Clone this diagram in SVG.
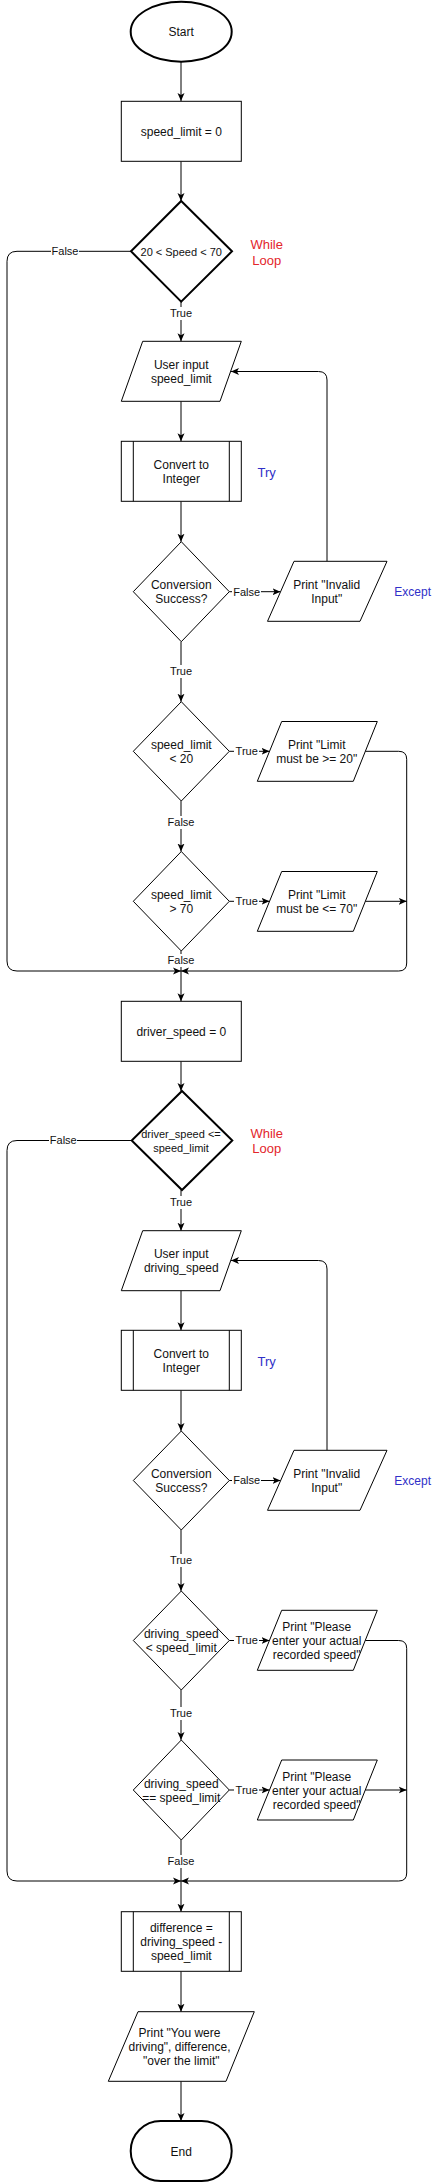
<svg xmlns="http://www.w3.org/2000/svg" width="438" height="2182" viewBox="0 0 438 2182">
<style>
.n{fill:#fff;stroke:#000;stroke-width:1}
.b{fill:#fff;stroke:#000;stroke-width:2}
.e{fill:none;stroke:#000;stroke-width:1}
.ea{fill:none;stroke:#000;stroke-width:1;marker-end:url(#arr)}
text{font-family:"Liberation Sans",Arial,Helvetica,sans-serif;text-anchor:middle;fill:#111}
.t{font-size:12px}
.s{font-size:11px}
.lb{fill:#fff;stroke:none}
.red{font-size:13px;fill:#e3252b}
.blue{font-size:13px;fill:#3030c8}
.blue12{font-size:12px;fill:#3030c8}
</style>
<defs>
<marker id="arr" markerUnits="userSpaceOnUse" viewBox="0 0 8 8" refX="8" refY="4" markerWidth="8" markerHeight="8" orient="auto">
<path d="M0,0.5 L8,4 L0,7.5 L2,4 z" fill="#000"/>
</marker>
</defs>
<rect width="438" height="2182" fill="#fff"/>

<g id="connectors">
<path class="ea" d="M181,62 L181,101"/>
<path class="ea" d="M181,161.3 L181,201"/>
<path class="ea" d="M181,301.7 L181,341.3"/>
<path class="ea" d="M131,251.3 L17,251.3 Q7,251.3 7,261.3 L7,961 Q7,971 17,971 L181,971"/>
<path class="ea" d="M181,401.3 L181,441.3"/>
<path class="ea" d="M181,501.3 L181,541.7"/>
<path class="ea" d="M229.3,591.7 L280.5,591.7"/>
<path class="ea" d="M327,561.3 L327,380 Q327,371.5 318.5,371.5 L231,371.5"/>
<path class="ea" d="M181,641.7 L181,701.7"/>
<path class="ea" d="M229.3,751.3 L269.5,751.3"/>
<path class="ea" d="M365.3,751.3 L398.7,751.3 Q406.7,751.3 406.7,759.3 L406.7,963 Q406.7,971 398.7,971 L181,971"/>
<path class="ea" d="M181,801 L181,851.5"/>
<path class="ea" d="M229.3,901.3 L269.5,901.3"/>
<path class="ea" d="M365.3,901.3 L406.7,901.3"/>
<path class="ea" d="M181,951 L181,1001.3"/>
<path class="ea" d="M181,1061.3 L181,1091"/>
<path class="ea" d="M131.7,1140.5 L17,1140.5 Q7,1140.5 7,1150.5 L7,1871 Q7,1881 17,1881 L181,1881"/>
<path class="ea" d="M181,1190 L181,1230.7"/>
<path class="ea" d="M181,1290.7 L181,1330.3"/>
<path class="ea" d="M181,1390.3 L181,1431"/>
<path class="ea" d="M229.3,1480.5 L280.5,1480.5"/>
<path class="ea" d="M327,1450.3 L327,1269 Q327,1260.5 318.5,1260.5 L231,1260.5"/>
<path class="ea" d="M181,1530 L181,1591"/>
<path class="ea" d="M229.3,1640.5 L269.5,1640.5"/>
<path class="ea" d="M365.3,1640.5 L398.7,1640.5 Q406.7,1640.5 406.7,1648.5 L406.7,1873 Q406.7,1881 398.7,1881 L181,1881"/>
<path class="ea" d="M181,1690 L181,1740"/>
<path class="ea" d="M229.3,1790 L269.5,1790"/>
<path class="ea" d="M365.3,1790 L406.7,1790"/>
<path class="ea" d="M181,1840 L181,1911.7"/>
<path class="ea" d="M181,1971.3 L181,2011.7"/>
<path class="ea" d="M181,2081.3 L181,2121"/>
<g id="edge-labels">
<rect class="lb" x="51" y="245" width="28" height="13"/><text class="s" x="65" y="255.2">False</text>
<rect class="lb" x="169" y="307" width="24" height="13"/><text class="s" x="181" y="317.2">True</text>
<rect class="lb" x="232" y="585" width="29" height="13"/><text class="s" x="246.7" y="595.6">False</text>
<rect class="lb" x="169" y="665" width="24" height="13"/><text class="s" x="181" y="674.9">True</text>
<rect class="lb" x="234" y="745" width="25" height="13"/><text class="s" x="246.7" y="755.2">True</text>
<rect class="lb" x="167" y="816" width="28" height="13"/><text class="s" x="181" y="825.9">False</text>
<rect class="lb" x="234" y="895" width="25" height="13"/><text class="s" x="246.7" y="905.2">True</text>
<rect class="lb" x="167" y="954" width="28" height="13"/><text class="s" x="181" y="963.9">False</text>
<rect class="lb" x="49" y="1134" width="28" height="13"/><text class="s" x="63.3" y="1143.9">False</text>
<rect class="lb" x="169" y="1196" width="24" height="13"/><text class="s" x="181" y="1206.2">True</text>
<rect class="lb" x="232" y="1474" width="29" height="13"/><text class="s" x="246.7" y="1484.4">False</text>
<rect class="lb" x="169" y="1554" width="24" height="13"/><text class="s" x="181" y="1563.9">True</text>
<rect class="lb" x="234" y="1634" width="25" height="13"/><text class="s" x="246.7" y="1644.4">True</text>
<rect class="lb" x="169" y="1707" width="24" height="13"/><text class="s" x="181" y="1717.2">True</text>
<rect class="lb" x="234" y="1784" width="25" height="13"/><text class="s" x="246.7" y="1793.9">True</text>
<rect class="lb" x="167" y="1855" width="28" height="13"/><text class="s" x="181" y="1864.9">False</text>
</g>
</g>

<g id="start"><ellipse class="b" cx="181.2" cy="31.7" rx="50.5" ry="30"/><text class="t" x="181.2" y="36">Start</text></g>
<g id="init-speed-limit"><rect class="n" x="121.3" y="101.3" width="120" height="60"/><text class="t" x="181.3" y="136">speed_limit = 0</text></g>
<g id="while1"><polygon class="b" points="181.2,201 232,251.3 181.2,301.7 131,251.3"/><text class="s" x="181.2" y="255.6">20 &lt; Speed &lt; 70</text></g>
<g id="while1-note"><text class="red" x="266.7" y="248.7">While</text><text class="red" x="266.7" y="264.7">Loop</text></g>
<g id="input1"><polygon class="n" points="142.7,341.3 241.3,341.3 220,401.3 121.3,401.3"/><text class="t" x="181.3" y="369">User input</text><text class="t" x="181.3" y="383">speed_limit</text></g>
<g id="convert1"><rect class="n" x="121.3" y="441.3" width="120" height="60"/><path class="e" d="M133.3,441.3 V501.3 M229.3,441.3 V501.3"/><text class="t" x="181.3" y="469">Convert to</text><text class="t" x="181.3" y="483">Integer</text></g>
<g id="try1"><text class="blue" x="266.7" y="477">Try</text></g>
<g id="success1"><polygon class="n" points="181.3,541.7 229.3,591.7 181.3,641.7 133.3,591.7"/><text class="t" x="181.3" y="589">Conversion</text><text class="t" x="181.3" y="603">Success?</text></g>
<g id="invalid1"><polygon class="n" points="294,561.3 387,561.3 360,621.3 267.5,621.3"/><text class="t" x="326.7" y="589">Print "Invalid</text><text class="t" x="326.7" y="603">Input"</text></g>
<g id="except1"><text class="blue12" x="412.7" y="596">Except</text></g>
<g id="lt20"><polygon class="n" points="181.3,701.7 229.3,751.3 181.3,801 133.3,751.3"/><text class="t" x="181.3" y="748.6">speed_limit</text><text class="t" x="181.3" y="763">&lt; 20</text></g>
<g id="print-ge20"><polygon class="n" points="281.7,721.5 377.3,721.5 353.3,781.3 257.3,781.3"/><text class="t" x="316.7" y="748.6">Print "Limit</text><text class="t" x="316.7" y="763">must be &gt;= 20"</text></g>
<g id="gt70"><polygon class="n" points="181.3,851.5 229.3,901.3 181.3,951 133.3,901.3"/><text class="t" x="181.3" y="898.6">speed_limit</text><text class="t" x="181.3" y="913">&gt; 70</text></g>
<g id="print-le70"><polygon class="n" points="281.7,871.5 377.3,871.5 353.3,931.3 257.3,931.3"/><text class="t" x="316.7" y="898.6">Print "Limit</text><text class="t" x="316.7" y="913">must be &lt;= 70"</text></g>
<g id="init-driver-speed"><rect class="n" x="121.3" y="1001.3" width="120" height="60"/><text class="t" x="181.3" y="1036">driver_speed = 0</text></g>
<g id="while2"><polygon class="b" points="182,1091 232.3,1140.5 182,1190 131.7,1140.5"/><text class="s" x="181" y="1138.2">driver_speed &lt;=</text><text class="s" x="181" y="1152.2">speed_limit</text></g>
<g id="while2-note"><text class="red" x="266.7" y="1138">While</text><text class="red" x="266.7" y="1153">Loop</text></g>
<g id="input2"><polygon class="n" points="142.7,1230.7 241.3,1230.7 220,1290.7 121.3,1290.7"/><text class="t" x="181.3" y="1257.6">User input</text><text class="t" x="181.3" y="1272">driving_speed</text></g>
<g id="convert2"><rect class="n" x="121.3" y="1330.3" width="120" height="60"/><path class="e" d="M133.3,1330.3 V1390.3 M229.3,1330.3 V1390.3"/><text class="t" x="181.3" y="1358">Convert to</text><text class="t" x="181.3" y="1372">Integer</text></g>
<g id="try2"><text class="blue" x="266.7" y="1365.7">Try</text></g>
<g id="success2"><polygon class="n" points="181.3,1431 229.3,1480.5 181.3,1530 133.3,1480.5"/><text class="t" x="181.3" y="1478">Conversion</text><text class="t" x="181.3" y="1492">Success?</text></g>
<g id="invalid2"><polygon class="n" points="294,1450.3 387,1450.3 360,1510.3 267.5,1510.3"/><text class="t" x="326.7" y="1478">Print "Invalid</text><text class="t" x="326.7" y="1492">Input"</text></g>
<g id="except2"><text class="blue12" x="412.7" y="1484.8">Except</text></g>
<g id="lt-limit"><polygon class="n" points="181.3,1591 229.3,1640.5 181.3,1690 133.3,1640.5"/><text class="t" x="181.3" y="1638">driving_speed</text><text class="t" x="181.3" y="1652">&lt; speed_limit</text></g>
<g id="print-please1"><polygon class="n" points="281.7,1610.3 377.3,1610.3 353.3,1670.3 257.3,1670.3"/><text class="t" x="316.7" y="1631">Print "Please</text><text class="t" x="316.7" y="1645">enter your actual</text><text class="t" x="316.7" y="1659">recorded speed"</text></g>
<g id="eq-limit"><polygon class="n" points="181.3,1740 229.3,1790 181.3,1840 133.3,1790"/><text class="t" x="181.3" y="1788.3">driving_speed</text><text class="t" x="181.3" y="1802">== speed_limit</text></g>
<g id="print-please2"><polygon class="n" points="281.7,1760 377.3,1760 353.3,1820 257.3,1820"/><text class="t" x="316.7" y="1781">Print "Please</text><text class="t" x="316.7" y="1795">enter your actual</text><text class="t" x="316.7" y="1809">recorded speed"</text></g>
<g id="difference"><rect class="n" x="121.3" y="1911.7" width="120" height="59.6"/><path class="e" d="M133.3,1911.7 V1971.3 M229.3,1911.7 V1971.3"/><text class="t" x="181.3" y="1932">difference =</text><text class="t" x="181.3" y="1946">driving_speed -</text><text class="t" x="181.3" y="1960">speed_limit</text></g>
<g id="print-result"><polygon class="n" points="138,2011.7 254.3,2011.7 226,2081.3 108.3,2081.3"/><text class="t" x="179.5" y="2037">Print "You were</text><text class="t" x="179.5" y="2051">driving", difference,</text><text class="t" x="181.3" y="2065">"over the limit"</text></g>
<g id="end"><rect class="b" x="130.7" y="2121" width="101" height="60" rx="30" ry="30"/><text class="t" x="181.2" y="2156">End</text></g>
</svg>
